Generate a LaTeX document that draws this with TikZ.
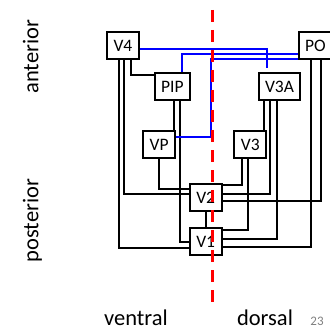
\documentclass[tikz,border=0pt]{standalone}
\usepackage{fontspec}
\setmainfont{Carlito}
\usetikzlibrary{positioning}

\tikzset{
  area/.style={draw, line width=2pt, fill=white, minimum height=27pt,
    inner xsep=6.5pt, font=\fontsize{17.5}{20}\selectfont},
  wire/.style={line width=2pt},
  feedback/.style={line width=2pt, blue},
  midline/.style={line width=2.6pt, red, dash pattern=on 12pt off 8pt},
  sidelabel/.style={font=\fontsize{22.5}{26}\selectfont, anchor=base}
}

\begin{document}
\begin{tikzpicture}[x=1pt, y=-1pt, node distance=44pt]
  \useasboundingbox (0,0) rectangle (329,331);

  \coordinate (divtop) at (212.5,10);
  \coordinate (divbot) at (212.5,303);

  \node[area] (V4) at (122.9,45.5) {V4};
  \node[area] (PIP) at (172.3,86.8) {PIP};
  \node[area] (VP) at (159.2,144.5) {VP};
  \node[area] (V2) at (205.7,197.5) {V2};
  \node[area] (V1) [below of=V2] {V1};

  \node[area] (PO) [right of=V4, xshift=148.6pt] {PO};
  \node[area] (V3A) [right of=PIP, xshift=63.2pt] {V3A};
  \node[area] (V3) [right of=VP, xshift=47.1pt] {V3};

  \draw[wire] ([xshift=8pt]V4.south) |- ([yshift=11.8pt]PIP.west);
  \draw[wire] ([xshift=0.6pt]V4.south) |- ([yshift=3.5pt]V2.west);
  \draw[wire] ([xshift=-4pt]V4.south) |- ([yshift=-6.5pt]V1.west);
  \draw[wire] ([xshift=1.7pt]PIP.south) -- ([xshift=1.7pt]PIP.south |- VP.north);
  \draw[wire] ([xshift=7.7pt]PIP.south) |- (V1.west);
  \draw[wire] (VP.south) |- ([yshift=8.5pt]V2.west);
  \draw[wire] (V2) -- (V1);

  \draw[wire] ([xshift=-15.2pt]V3A.south) -- ([xshift=-15.2pt]V3A.south |- V3.north);
  \draw[wire] ([xshift=-9.5pt]V3A.south) |- ([yshift=3.5pt]V2.east);
  \draw[wire] ([xshift=-3pt]V3A.south) |- ([yshift=2.5pt]V1.east);
  \draw[wire] ([xshift=-8pt]V3.south) |- ([yshift=12.5pt]V2.east);
  \draw[wire] ([xshift=-2.6pt]V3.south) |- ([yshift=11.5pt]V1.east);
  \draw[wire] ([xshift=-4.2pt]PO.south) |- ([yshift=-5.5pt]V1.east);
  \draw[wire] ([xshift=5.8pt]PO.south) |- ([yshift=-3.2pt]V2.east);

  % feedback
  \draw[feedback] ([yshift=-3.8pt]V4.east) -| ([xshift=-12.5pt,yshift=4pt]V3A.north);
  \draw[feedback] ([xshift=9.7pt]PIP.north) |- ([yshift=-8.8pt]PO.west);
  \draw[feedback] ([yshift=7.8pt]VP.east) -| ([xshift=-1.5pt,yshift=-13.3pt]divtop |- PO.west)
    -- ([yshift=-13.3pt]PO.west);

  \draw[midline] (divtop) -- (divbot);

  \node[sidelabel, rotate=90] (anterior) at (38.3,56.7) {anterior};
  \node[sidelabel, rotate=90] (posterior) at (38.3,220.8) {posterior};
  \node[sidelabel] (ventral) at (136,325.5) {ventral};
  \node[sidelabel] (dorsal) at (265,325.5) {dorsal};
  \node[anchor=base, text=gray, font=\fontsize{13}{15}\selectfont] (slide) at (317,325.5) {23};
\end{tikzpicture}
\end{document}
